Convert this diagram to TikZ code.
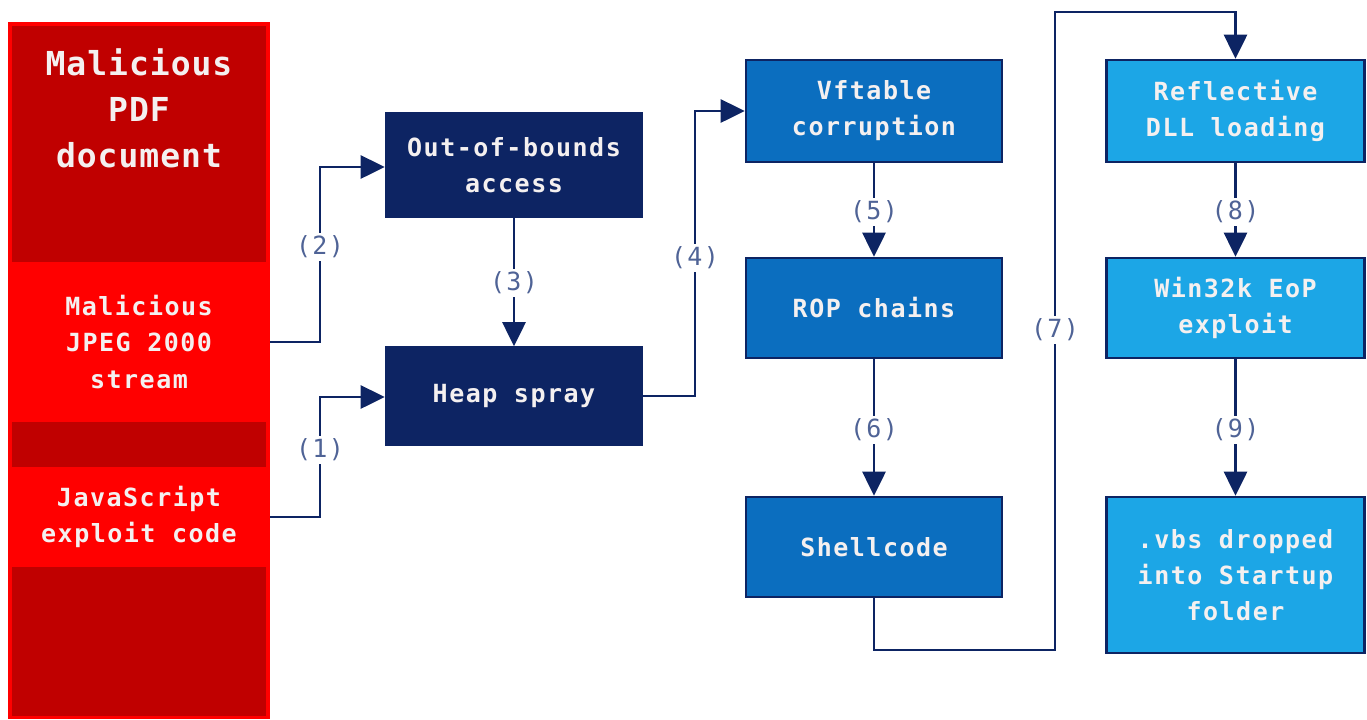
\documentclass[tikz,border=0pt]{standalone}
\usepackage{fontspec}
\setmonofont{DejaVu Sans Mono}
\newfontfamily\boxfont[LetterSpace=6]{DejaVu Sans Mono Bold}
\newfontfamily\titlefont[LetterSpace=3]{DejaVu Sans Mono Bold}
\newfontfamily\lblfont[LetterSpace=5]{DejaVu Sans Mono}
\usetikzlibrary{arrows.meta}
\definecolor{navy}{HTML}{0D2463}
\definecolor{midblue}{HTML}{0B6EBF}
\definecolor{lightblue}{HTML}{1CA6E6}
\definecolor{brightred}{HTML}{FF0000}
\definecolor{darkred}{HTML}{C00000}
\definecolor{txtw}{HTML}{F4F0F0}
\definecolor{lblc}{HTML}{4F6396}
\tikzset{
  box/.style={draw=navy, line width=1.3pt, minimum width=128pt, minimum height=51pt,
    align=center, text=txtw, inner sep=0pt,
    font=\boxfont\fontsize{12.5}{18}\selectfont},
  navybox/.style={box, fill=navy},
  midbox/.style={box, fill=midblue},
  lightbox/.style={box, fill=lightblue},
  redpart/.style={fill=brightred, draw=none, minimum width=131pt, align=center, text=txtw,
    inner sep=0pt, font=\boxfont\fontsize{12.5}{18.3}\selectfont},
  arr/.style={draw=navy, line width=1.4pt, -{Triangle[length=12pt,width=11.5pt]}},
  lbl/.style={fill=white, text=lblc, inner sep=1.5pt, font=\lblfont\fontsize{12.5}{14}\selectfont},
}
\begin{document}
\begin{tikzpicture}[x=0.5pt,y=-0.5pt]
\useasboundingbox (0,0) rectangle (1367,719);
% red column
\fill[brightred] (8,22) rectangle (270,719);
\fill[darkred] (12,26) rectangle (266,262);
\fill[darkred] (12,422) rectangle (266,467);
\fill[darkred] (12,567) rectangle (266,716);
\node[align=center, text=txtw, font=\titlefont\fontsize{16.5}{23}\selectfont]
  (pdf) at (139,108) {Malicious\\PDF\\document};
\node[redpart, minimum height=80pt] (jpeg) at (139,342) {Malicious\\JPEG 2000\\stream};
\node[redpart, minimum height=50pt] (js) at (139,517) {JavaScript\\exploit code};
% boxes
\node[navybox, minimum height=52pt] (oob) at (514,165) {Out-of-bounds\\access};
\node[navybox, minimum height=48.5pt] (heap) at (514,396) {Heap spray};
\node[midbox] (vft) at (874,111) {Vftable\\corruption};
\node[midbox, minimum height=50pt] (rop) at (874,308) {ROP chains};
\node[midbox, minimum height=50pt] (shell) at (874,547) {Shellcode};
\node[lightbox, minimum width=129pt] (refl) at (1235.5,111) {Reflective\\DLL loading};
\node[lightbox, minimum width=129pt, minimum height=50pt] (win) at (1235.5,308) {Win32k EoP\\exploit};
\node[lightbox, minimum width=129pt, minimum height=78pt] (vbs) at (1235.5,575) {.vbs dropped\\into Startup\\folder};
% connectors
\coordinate (c2) at (320,167);
\coordinate (c1) at (320,397);
\coordinate (c4) at (695,111);
\coordinate (c7a) at (1055,650);
\coordinate (c7b) at (1055,12);
\draw[arr] (jpeg.east) -| (c2) -- (c2 -| oob.west);
\draw[arr] (js.east) -| (c1) -- (c1 -| heap.west);
\draw[arr] (oob.south) -- (heap.north);
\draw[arr] (heap.east) -| (c4) -- (vft.west);
\draw[arr] (vft.south) -- (rop.north);
\draw[arr] (rop.south) -- (shell.north);
\draw[arr] (shell.south) |- (c7a) -- (c7b) -| (refl.north);
\draw[arr] (refl.south) -- (win.north);
\draw[arr] (win.south) -- (vbs.north);
% labels
\node[lbl] (l2) at (320,247) {(2)};
\node[lbl] (l1) at (320,450) {(1)};
\node[lbl] (l3) at (514,283) {(3)};
\node[lbl] (l4) at (695,258) {(4)};
\node[lbl] (l5) at (874,212) {(5)};
\node[lbl] (l6) at (874,430) {(6)};
\node[lbl] (l7) at (1055,330) {(7)};
\node[lbl] (l8) at (1235.5,212) {(8)};
\node[lbl] (l9) at (1235.5,430) {(9)};
\end{tikzpicture}
\end{document}
